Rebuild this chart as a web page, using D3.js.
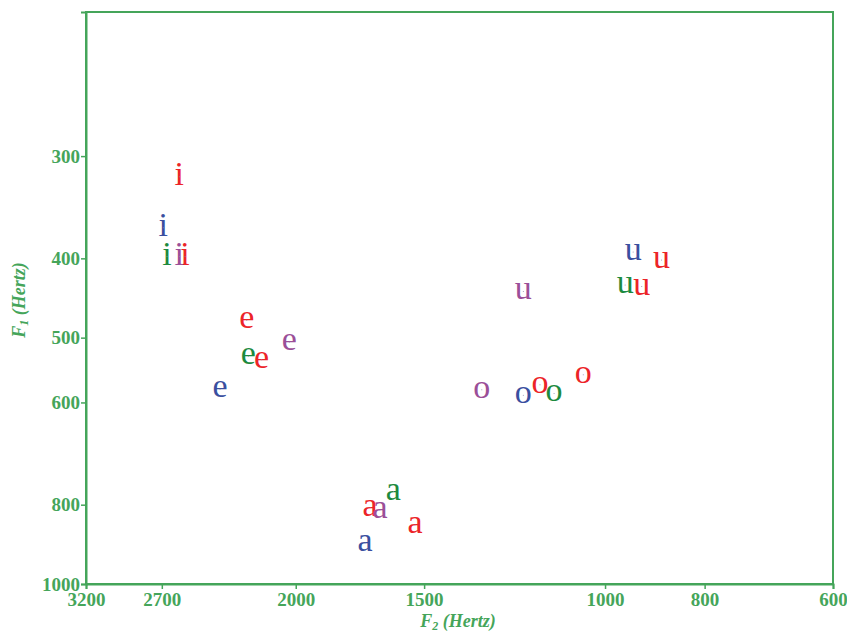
<!DOCTYPE html>
<html>
<head>
<meta charset="utf-8">
<script src="https://cdn.jsdelivr.net/npm/d3@7"></script>
<style>
  body { margin: 0; background: #fff; }
  text { font-family: "Liberation Serif", "Times New Roman", serif; }
</style>
</head>
<body>
<svg width="847" height="634"></svg>
<script>
// vowel formant data: [F2, F1] per speaker series
var vowels = ["i", "e", "a", "o", "u"];
var xTicks = [3200, 2700, 2000, 1500, 1000, 800, 600];
var yTicks = [300, 400, 500, 600, 800, 1000];

var redA = [
  {v: "i", f2: 2596, f1: 318}, {v: "i", f2: 2563, f1: 398},
  {v: "e", f2: 2232, f1: 476}, {v: "e", f2: 2159, f1: 532},
  {v: "a", f2: 1693, f1: 807}, {v: "a", f2: 1531, f1: 847},
  {v: "o", f2: 1157, f1: 571}, {v: "o", f2: 1050, f1: 555},
  {v: "u", f2: 881, f1: 402}, {v: "u", f2: 921, f1: 433}
];
var blue = [
  {v: "i", f2: 2691, f1: 367}, {v: "e", f2: 2370, f1: 578},
  {v: "a", f2: 1712, f1: 891}, {v: "o", f2: 1201, f1: 588},
  {v: "u", f2: 939, f1: 393}
];
var green = [
  {v: "i", f2: 2669, f1: 398}, {v: "e", f2: 2224, f1: 527},
  {v: "a", f2: 1607, f1: 771}, {v: "o", f2: 1121, f1: 585},
  {v: "u", f2: 956, f1: 431}
];
var purple = [
  {v: "i", f2: 2596, f1: 398}, {v: "e", f2: 2029, f1: 506},
  {v: "a", f2: 1656, f1: 812}, {v: "o", f2: 1318, f1: 579},
  {v: "u", f2: 1201, f1: 439}
];

var series = [
  {name: "green", color: "#1d8a3e", points: green},
  {name: "blue", color: "#3a4f9f", points: blue},
  {name: "red", color: "#ec2428", points: redA},
  {name: "purple", color: "#9b4f98", points: purple}
];

var axisColor = "#45a55a";
var svg = d3.select("svg");
var margin = {top: 12, right: 14, bottom: 50, left: 86};
var width = +svg.attr("width") - margin.left - margin.right;
var height = +svg.attr("height") - margin.top - margin.bottom;

var g = svg.append("g")
  .attr("transform", "translate(" + margin.left + "," + margin.top + ")");

var x = d3.scaleLog().domain([3200, 600]).range([0, width]);
var y = d3.scaleLog().domain([200, 1000]).range([0, height]);

// frame
g.append("rect")
  .attr("width", width)
  .attr("height", height)
  .attr("fill", "none")
  .attr("stroke", axisColor)
  .attr("stroke-width", 2);

var xAxis = d3.axisBottom(x).tickValues(xTicks).tickFormat(d3.format("d")).tickSize(5).tickPadding(4);
var yAxis = d3.axisLeft(y).tickValues(yTicks).tickFormat(d3.format("d")).tickSize(5).tickPadding(1);

var axX = g.append("g").attr("transform", "translate(0," + height + ")").call(xAxis);
var axY = g.append("g").call(yAxis);

[axX, axY].forEach(function(a) {
  a.attr("font-family", null);
  a.select(".domain").attr("stroke", axisColor).attr("stroke-width", 2);
  a.selectAll(".tick line").attr("stroke", axisColor).attr("stroke-width", 1.5);
  a.selectAll(".tick text")
    .attr("fill", axisColor)
    .style("font-family", "'Liberation Serif', serif")
    .style("font-size", "19px")
    .style("font-weight", "bold");
});

// axis titles
var xt = svg.append("text")
  .attr("x", 458)
  .attr("y", 627)
  .attr("text-anchor", "middle")
  .attr("fill", axisColor)
  .style("font-size", "18px")
  .style("font-style", "italic")
  .style("font-weight", "bold");
xt.append("tspan").text("F");
xt.append("tspan").attr("dy", 3).style("font-size", "12px").text("2");
xt.append("tspan").attr("dy", -3).text(" (Hertz)");

var yt = svg.append("text")
  .attr("transform", "translate(25,300) rotate(-90)")
  .attr("text-anchor", "middle")
  .attr("fill", axisColor)
  .style("font-size", "18px")
  .style("font-style", "italic")
  .style("font-weight", "bold");
yt.append("tspan").text("F");
yt.append("tspan").attr("dy", 3).style("font-size", "12px").text("1");
yt.append("tspan").attr("dy", -3).text(" (Hertz)");

// vowel letters
series.forEach(function(s) {
  var sg = g.append("g");
  sg.selectAll("text")
    .data(s.points).enter()
    .append("text")
    .attr("x", function(d) { return x(d.f2); })
    .attr("y", function(d) { return y(d.f1); })
    .attr("dy", 8)
    .attr("text-anchor", "middle")
    .attr("fill", s.color)
    .style("font-size", "34px")
    .text(function(d) { return d.v; });
  sg.selectAll("circle")
    .data(s.points).enter()
    .append("circle")
    .attr("cx", function(d) { return x(d.f2); })
    .attr("cy", function(d) { return y(d.f1); })
    .attr("r", 0.5)
    .attr("fill", "#88a");
});
</script>
</body>
</html>
